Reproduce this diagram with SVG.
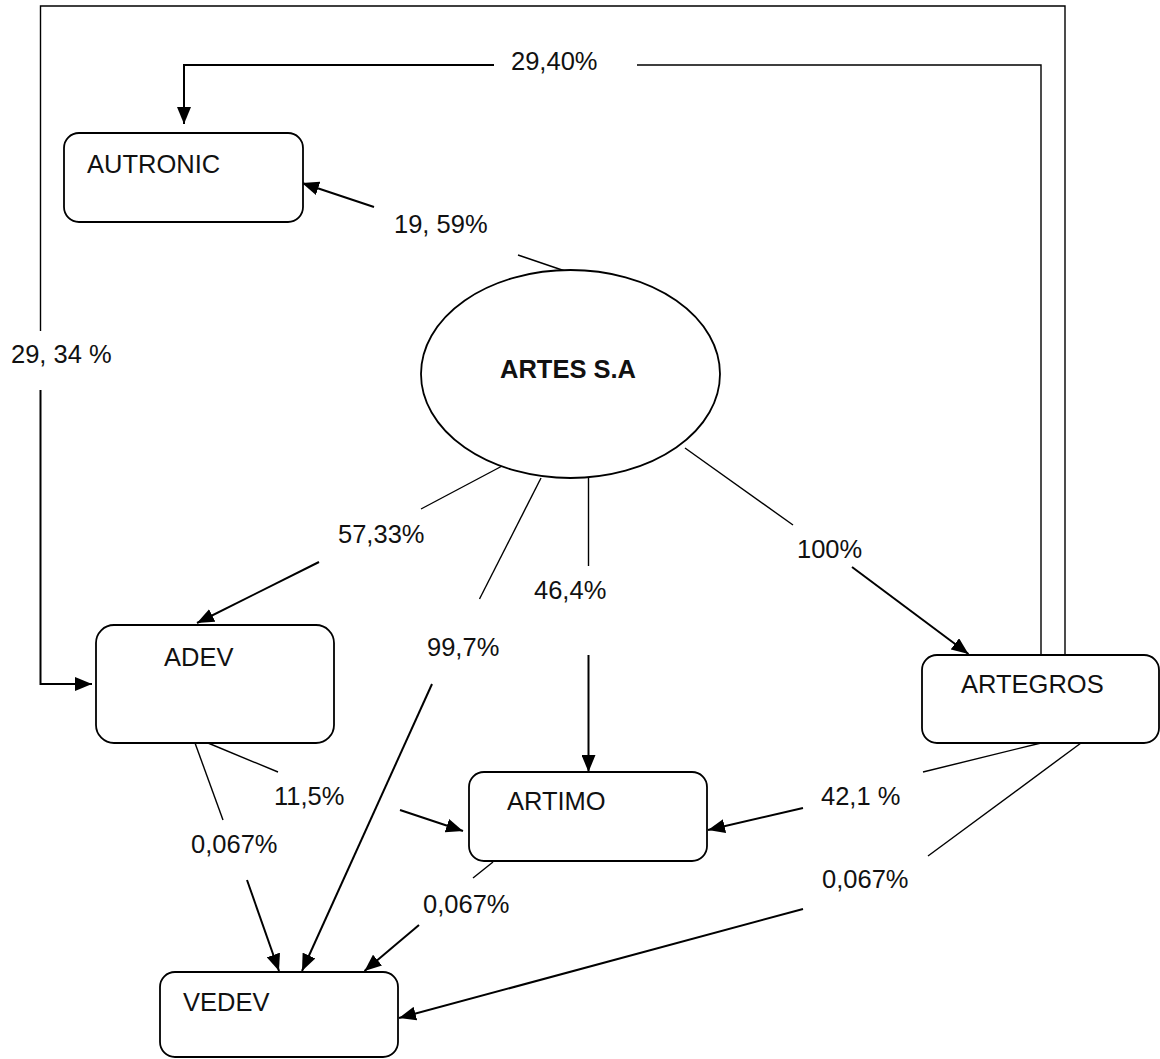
<svg xmlns="http://www.w3.org/2000/svg" width="1160" height="1059" viewBox="0 0 1160 1059">
<defs>
<marker id="ah" markerUnits="userSpaceOnUse" markerWidth="17" markerHeight="14" refX="17" refY="7" orient="auto">
<path d="M0,0 L17,7 L0,14 z" fill="#000"/>
</marker>
<style>
.box{fill:#fff;stroke:#000;stroke-width:1.8}
.t{font-family:"Liberation Sans",Arial,sans-serif;font-size:25.5px;fill:#111}
.b{font-weight:bold}
.pl{fill:none;stroke:#000;stroke-width:1.4}
.ar{fill:none;stroke:#000;stroke-width:2;marker-end:url(#ah)}
</style>
</defs>
<rect width="1160" height="1059" fill="#fff"/>
<g id="connectors">
<line class="pl" x1="565" y1="271" x2="518" y2="255"/>
<line class="ar" x1="374" y1="207" x2="302" y2="183"/>
<polyline class="pl" points="1041,655 1041,65 637,65"/>
<polyline class="ar" points="494,65 184,65 184,124"/>
<polyline class="pl" points="1065,655 1065,6 40.5,6 40.5,331"/>
<polyline class="ar" points="40.5,390 40.5,684 92,684"/>
<line class="pl" x1="504" y1="465" x2="421" y2="509"/>
<line class="ar" x1="319" y1="562" x2="197" y2="623"/>
<line class="pl" x1="541" y1="478" x2="479.5" y2="599"/>
<line class="ar" x1="432" y1="684" x2="302" y2="971"/>
<line class="pl" x1="588.5" y1="478" x2="588.5" y2="566"/>
<line class="ar" x1="588.5" y1="655" x2="588.5" y2="772"/>
<line class="pl" x1="685" y1="448" x2="793" y2="525"/>
<line class="ar" x1="852" y1="567" x2="968.5" y2="654"/>
<line class="pl" x1="208" y1="743" x2="278" y2="772"/>
<line class="ar" x1="400" y1="810" x2="463" y2="831"/>
<line class="pl" x1="195" y1="743" x2="223" y2="820"/>
<line class="ar" x1="247" y1="880" x2="279" y2="971"/>
<line class="pl" x1="1041" y1="743" x2="923" y2="772"/>
<line class="ar" x1="803" y1="808" x2="708" y2="830"/>
<line class="pl" x1="1081" y1="743" x2="928" y2="856"/>
<line class="ar" x1="803" y1="909" x2="399" y2="1018"/>
<line class="pl" x1="493" y1="862" x2="473" y2="878"/>
<line class="ar" x1="419" y1="925" x2="364.5" y2="971"/>
</g>
<g id="labels">
<text class="t" x="511" y="70">29,40%</text>
<text class="t" x="394" y="233">19, 59%</text>
<text class="t" x="11" y="363">29, 34 %</text>
<text class="t" x="338" y="543">57,33%</text>
<text class="t" x="427" y="656">99,7%</text>
<text class="t" x="534" y="599">46,4%</text>
<text class="t" x="797" y="558">100%</text>
<text class="t" x="274" y="805">11,5%</text>
<text class="t" x="821" y="805">42,1 %</text>
<text class="t" x="191" y="853">0,067%</text>
<text class="t" x="423" y="913">0,067%</text>
<text class="t" x="822" y="888">0,067%</text>
</g>
<g id="artes">
<ellipse class="box" cx="570.5" cy="374" rx="149.5" ry="104"/>
<text class="t b" x="500" y="378">ARTES S.A</text>
</g>
<g id="autronic">
<rect class="box" x="64" y="133" width="239" height="89" rx="15"/>
<text class="t" x="87" y="173">AUTRONIC</text>
</g>
<g id="adev">
<rect class="box" x="96" y="625" width="238" height="118" rx="18"/>
<text class="t" x="164" y="666">ADEV</text>
</g>
<g id="artegros">
<rect class="box" x="922" y="655" width="237" height="88" rx="15"/>
<text class="t" x="961" y="693">ARTEGROS</text>
</g>
<g id="artimo">
<rect class="box" x="469" y="772" width="238" height="89" rx="15"/>
<text class="t" x="507" y="810">ARTIMO</text>
</g>
<g id="vedev">
<rect class="box" x="160" y="972" width="238" height="85" rx="15"/>
<text class="t" x="183" y="1011">VEDEV</text>
</g>
</svg>
